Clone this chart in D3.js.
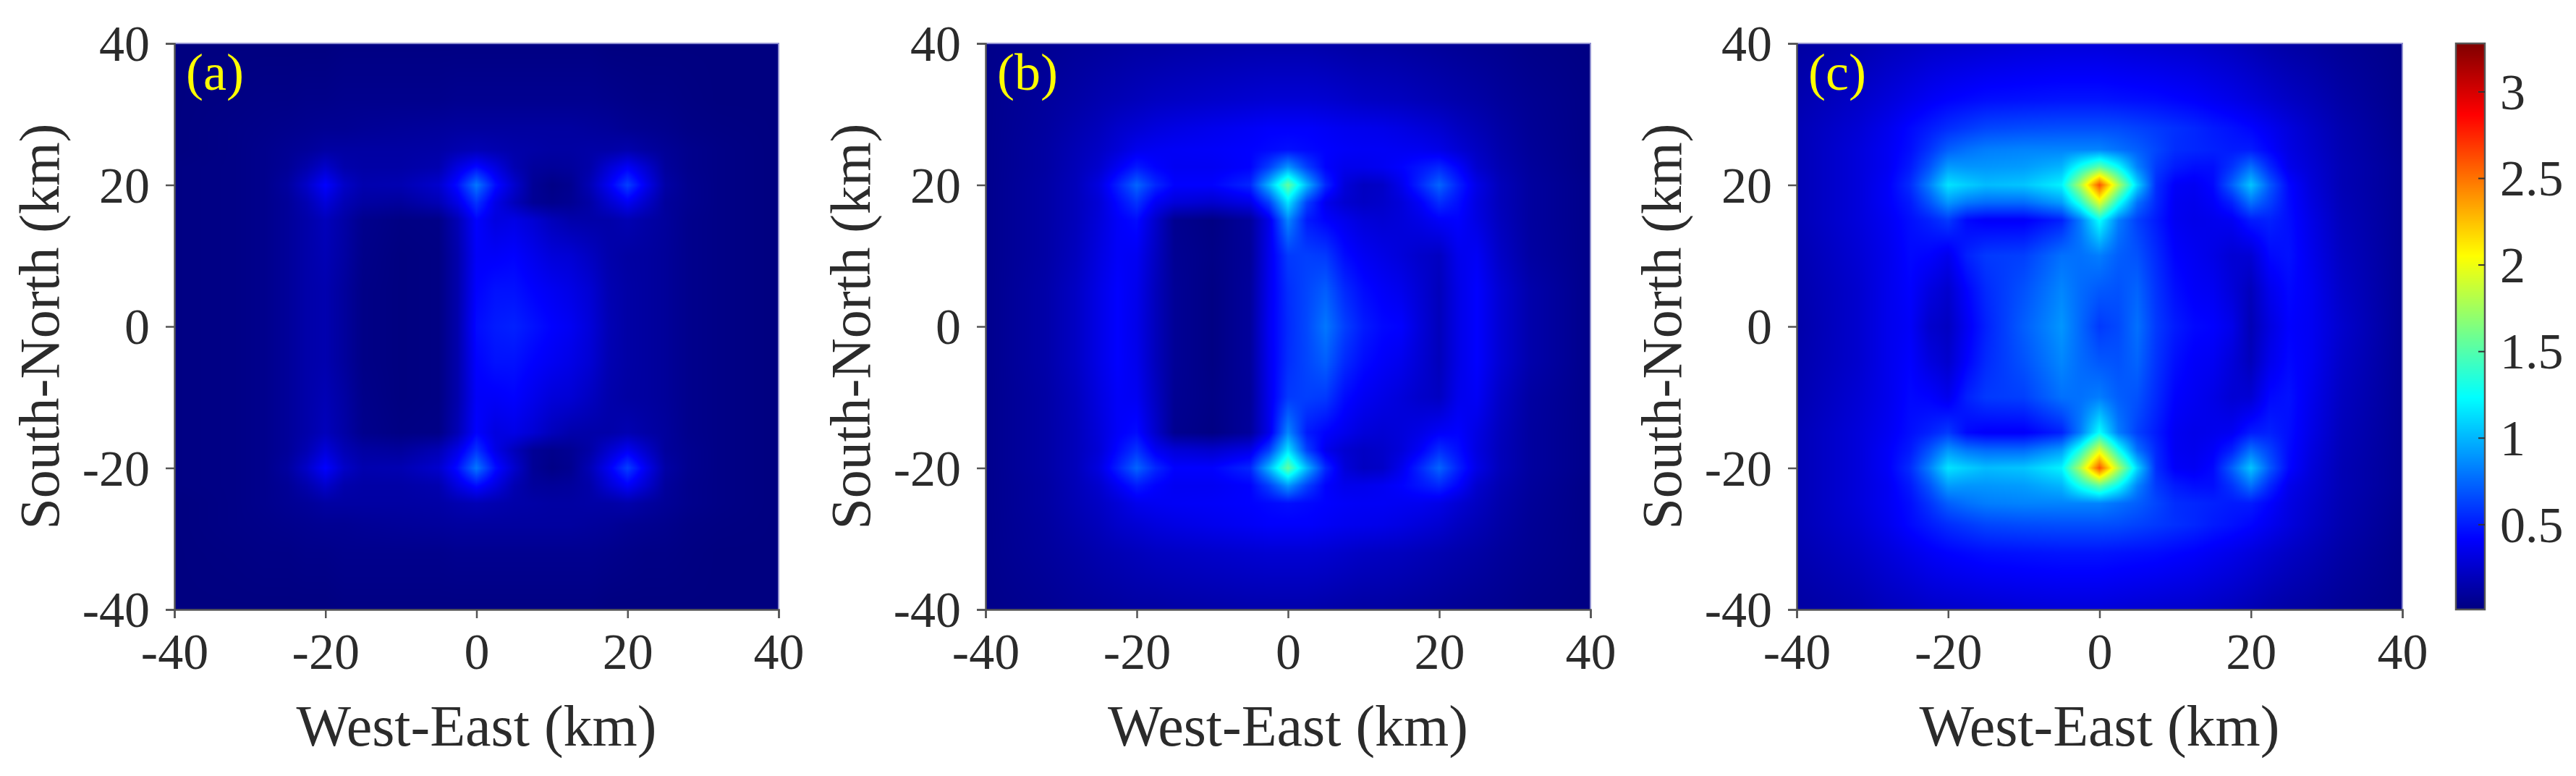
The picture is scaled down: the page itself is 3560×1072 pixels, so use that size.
<!DOCTYPE html>
<html>
<head>
<meta charset="utf-8">
<script src="https://cdnjs.cloudflare.com/ajax/libs/d3/7.8.5/d3.min.js"></script>
<style>
  html, body { margin: 0; padding: 0; background: #fff; }
  text { font-family: "Liberation Serif", serif; fill: #2b2b2b; }
</style>
</head>
<body>
<div id="chart-container"></div>
<script>
// sample positions (km), rows run from y=40 down to y=0, the south half mirrors them
var xKnots = [-40,-32,-28,-25,-22.5,-20,-17.5,-15,-10,-5,-2.5,0,2.5,5,7.5,10,12.5,15,17.5,20,22.5,25,28,32,40];
var yKnots = [40,32,28,25,22.5,20,17.5,15,10,5,0];

var rowsA = [
  [.01,.01,.01,.01,.01,.01,.02,.02,.02,.02,.02,.02,.02,.02,.02,.02,.02,.02,.01,.01,.01,.01,.01,.01,.01],
  [.01,.02,.03,.03,.04,.04,.05,.05,.05,.05,.06,.06,.06,.06,.06,.06,.06,.06,.05,.04,.03,.03,.02,.01,.01],
  [.01,.03,.04,.05,.06,.07,.07,.08,.09,.10,.11,.11,.11,.11,.11,.11,.11,.10,.09,.07,.06,.05,.03,.02,.01],
  [.01,.03,.05,.07,.09,.12,.12,.12,.12,.13,.16,.18,.16,.14,.13,.12,.12,.13,.13,.15,.11,.08,.05,.03,.01],
  [.02,.03,.05,.08,.15,.25,.15,.13,.13,.16,.32,.45,.32,.17,.10,.09,.10,.14,.28,.40,.26,.10,.05,.03,.01],
  [.02,.03,.05,.11,.24,.42,.24,.16,.17,.26,.46,.80,.46,.26,.08,.03,.06,.18,.38,.62,.36,.13,.06,.03,.01],
  [.02,.03,.05,.09,.17,.30,.18,.12,.10,.18,.34,.58,.34,.20,.08,.05,.07,.13,.26,.38,.24,.10,.06,.03,.01],
  [.02,.03,.05,.09,.14,.20,.13,.05,.02,.03,.18,.42,.32,.34,.28,.20,.15,.14,.14,.17,.13,.10,.05,.03,.01],
  [.02,.03,.05,.09,.14,.18,.12,.04,.01,.02,.15,.40,.40,.42,.36,.30,.28,.22,.15,.12,.11,.09,.05,.03,.01],
  [.02,.03,.05,.09,.14,.16,.10,.03,.01,.02,.15,.42,.47,.47,.42,.38,.34,.28,.17,.13,.11,.09,.05,.03,.01],
  [.02,.03,.05,.09,.14,.16,.10,.03,.01,.02,.15,.45,.50,.52,.47,.42,.38,.30,.18,.13,.11,.09,.05,.03,.01]
];

var rowsB = [
  [.04,.07,.09,.10,.11,.12,.12,.13,.14,.15,.15,.15,.15,.14,.13,.12,.12,.11,.10,.09,.08,.07,.06,.04,.02],
  [.05,.10,.13,.16,.18,.20,.22,.23,.25,.27,.28,.28,.28,.27,.25,.23,.22,.21,.19,.17,.15,.13,.10,.07,.03],
  [.05,.11,.16,.20,.25,.28,.31,.33,.36,.39,.41,.41,.41,.39,.37,.36,.35,.33,.30,.27,.22,.18,.13,.08,.03],
  [.05,.12,.18,.23,.29,.36,.38,.39,.40,.42,.44,.46,.44,.42,.40,.39,.39,.38,.37,.34,.28,.22,.15,.09,.03],
  [.05,.12,.19,.26,.38,.50,.42,.38,.38,.42,.62,.90,.62,.42,.36,.36,.38,.42,.48,.54,.42,.26,.17,.10,.03],
  [.05,.13,.20,.32,.52,.74,.54,.42,.42,.54,1.0,1.55,1.0,.54,.30,.22,.24,.36,.54,.74,.52,.34,.20,.11,.04],
  [.05,.13,.20,.29,.44,.58,.38,.30,.26,.34,.62,1.15,.62,.36,.27,.23,.25,.30,.40,.56,.46,.32,.20,.11,.04],
  [.05,.13,.20,.30,.40,.45,.25,.06,.02,.10,.35,.85,.50,.42,.36,.30,.28,.30,.34,.40,.42,.33,.21,.11,.04],
  [.05,.13,.21,.32,.40,.38,.22,.07,.03,.09,.36,.60,.62,.60,.45,.38,.34,.30,.25,.22,.36,.39,.24,.12,.04],
  [.05,.14,.23,.34,.42,.36,.20,.08,.02,.10,.37,.56,.64,.72,.55,.45,.40,.36,.28,.20,.34,.42,.28,.15,.04],
  [.05,.14,.23,.34,.42,.35,.20,.08,.02,.10,.38,.55,.65,.80,.62,.50,.44,.42,.30,.20,.34,.42,.28,.15,.04]
];

var rowsC = [
  [.12,.16,.20,.22,.24,.25,.26,.27,.29,.30,.30,.30,.29,.28,.27,.26,.25,.23,.21,.18,.15,.13,.11,.08,.04],
  [.16,.24,.30,.35,.39,.42,.44,.46,.47,.48,.48,.48,.47,.46,.45,.43,.41,.38,.35,.31,.27,.23,.19,.13,.05],
  [.18,.28,.36,.44,.50,.56,.60,.64,.66,.67,.67,.67,.66,.63,.60,.57,.54,.50,.47,.43,.37,.31,.24,.16,.06],
  [.18,.30,.38,.46,.58,.72,.78,.82,.84,.84,.84,.84,.78,.72,.64,.56,.54,.52,.50,.50,.42,.33,.26,.17,.07],
  [.18,.30,.38,.50,.68,.92,.90,.90,.92,1.0,1.3,1.55,1.25,.84,.60,.50,.46,.46,.58,.78,.54,.36,.28,.18,.08],
  [.18,.30,.40,.56,.82,1.15,1.08,1.02,1.05,1.2,1.8,2.6,1.8,1.1,.56,.40,.38,.44,.72,1.05,.70,.44,.30,.18,.08],
  [.18,.30,.40,.50,.68,.90,.80,.76,.76,.92,1.35,1.95,1.3,.78,.54,.38,.36,.40,.52,.78,.62,.45,.32,.19,.08],
  [.18,.30,.38,.46,.52,.60,.44,.40,.40,.52,.82,1.25,.82,.62,.50,.38,.35,.36,.38,.50,.52,.46,.34,.20,.08],
  [.16,.28,.36,.44,.42,.36,.52,.60,.62,.78,.78,.82,.72,.68,.55,.42,.38,.34,.28,.28,.44,.47,.36,.22,.08],
  [.15,.26,.36,.42,.32,.26,.42,.55,.68,.85,.76,.70,.68,.74,.58,.46,.40,.38,.30,.20,.36,.44,.38,.24,.08],
  [.14,.26,.36,.40,.26,.22,.38,.52,.72,.90,.75,.60,.65,.78,.60,.50,.44,.42,.35,.18,.32,.42,.38,.26,.08]
];

var panelNames = ["(a)", "(b)", "(c)"];
var axisTicks = [-40, -20, 0, 20, 40];
var colorTicks = [0.5, 1, 1.5, 2, 2.5, 3];
var colorMin = 0.01, colorMax = 3.28;

// jet colormap stops as fractions of the colour range
var jetStops = [0, 0.125, 0.375, 0.625, 0.875, 1];
var jetColors = ["#000080", "#0000ff", "#00ffff", "#ffff00", "#ff0000", "#800000"];

var width = 3560, height = 1072;
var plotTop = 60, plotBottom = 842;
var panels = [
  {left: 241, right: 1076, rows: rowsA},
  {left: 1362, right: 2198, rows: rowsB},
  {left: 2483, right: 3320, rows: rowsC}
];

var valueToFraction = d3.scaleLinear().domain([colorMin, colorMax]).range([0, 1]).clamp(true);
var jet = d3.scaleLinear().domain(jetStops).range(jetColors).interpolate(d3.interpolateRgb);

var svg = d3.select("#chart-container").append("svg")
    .attr("width", width)
    .attr("height", height)
    .style("display", "block");

// value at (x, y) shaded between the four surrounding samples
function shade(grid, ys, x, y) {
  var i = Math.max(1, Math.min(d3.bisectRight(xKnots, x), xKnots.length - 1));
  var j = Math.max(1, Math.min(d3.bisectRight(ys, y), ys.length - 1));
  var tx = (x - xKnots[i - 1]) / (xKnots[i] - xKnots[i - 1]);
  var ty = (y - ys[j - 1]) / (ys[j] - ys[j - 1]);
  var a = grid[j - 1][i - 1] + (grid[j - 1][i] - grid[j - 1][i - 1]) * tx;
  var b = grid[j][i - 1] + (grid[j][i] - grid[j][i - 1]) * tx;
  return a + (b - a) * ty;
}

panels.forEach(function(p, n) {
  var x = d3.scaleLinear().domain([-40, 40]).range([p.left, p.right]);
  var y = d3.scaleLinear().domain([-40, 40]).range([plotBottom, plotTop]);

  // south half is the mirror of the north half, bottom row first
  var grid = p.rows.slice().concat(p.rows.slice(0, -1).reverse());
  var ys = yKnots.map(function(d) { return -d; }).concat(yKnots.slice(0, -1).reverse());

  var w = p.right - p.left, h = plotBottom - plotTop;
  var canvas = document.createElement("canvas");
  canvas.width = w;
  canvas.height = h;
  var ctx = canvas.getContext("2d");
  var img = ctx.createImageData(w, h);
  for (var py = 0; py < h; py++) {
    for (var px = 0; px < w; px++) {
      var v = shade(grid, ys, x.invert(p.left + px + 0.5), y.invert(plotTop + py + 0.5));
      var c = d3.rgb(jet(valueToFraction(v)));
      var k = (py * w + px) * 4;
      img.data[k] = c.r;
      img.data[k + 1] = c.g;
      img.data[k + 2] = c.b;
      img.data[k + 3] = 255;
    }
  }
  ctx.putImageData(img, 0, 0);

  var g = svg.append("g");
  g.append("image")
    .attr("x", p.left)
    .attr("y", plotTop)
    .attr("width", w)
    .attr("height", h)
    .attr("href", canvas.toDataURL());

  // the thin pale edge along the top and right of each map
  g.append("path")
    .attr("d", "M" + p.left + "," + plotTop + "H" + p.right + "V" + plotBottom)
    .attr("fill", "none")
    .attr("stroke", "#8f8fd0")
    .attr("stroke-width", 2);

  var xAxis = g.append("g")
    .attr("transform", "translate(0," + plotBottom + ")")
    .call(d3.axisBottom(x).tickValues(axisTicks).tickSize(12).tickPadding(20)
      .tickFormat(function(d) { return String(d); }));
  var yAxis = g.append("g")
    .attr("transform", "translate(" + p.left + ",0)")
    .call(d3.axisLeft(y).tickValues(axisTicks).tickSize(12).tickPadding(22)
      .tickFormat(function(d) { return String(d); }));

  [xAxis, yAxis].forEach(function(a) {
    a.selectAll("path, line").attr("stroke", "#555").attr("stroke-width", 2.5);
    a.selectAll("text").style("font-family", '"Liberation Serif", serif').style("font-size", "70px").attr("fill", "#2b2b2b");
  });
  yAxis.selectAll("text").attr("dy", "0.34em");

  g.append("text")
    .attr("x", (p.left + p.right) / 2)
    .attr("y", 1030)
    .attr("text-anchor", "middle")
    .style("font-size", "80px")
    .text("West-East (km)");

  g.append("text")
    .attr("transform", "translate(" + (p.left - 160) + "," + ((plotTop + plotBottom) / 2) + ") rotate(-90)")
    .attr("text-anchor", "middle")
    .style("font-size", "78px")
    .text("South-North (km)");

  g.append("text")
    .attr("x", p.left + 16)
    .attr("y", 124)
    .style("font-size", "72px")
    .style("fill", "#ffff00")
    .text(panelNames[n]);
});

// colorbar
var barLeft = 3394, barRight = 3434;
var barScale = d3.scaleLinear().domain([colorMin, colorMax]).range([plotBottom, plotTop]);
var barSteps = d3.range(plotBottom - plotTop).map(function(i) { return barScale.invert(plotBottom - i - 0.5); });

svg.append("g").selectAll("rect")
    .data(barSteps)
    .enter().append("rect")
    .attr("x", barLeft)
    .attr("y", function(d) { return barScale(d) - 0.5; })
    .attr("width", barRight - barLeft)
    .attr("height", 1.5)
    .attr("fill", function(d) { return jet(valueToFraction(d)); });

svg.append("rect")
    .attr("x", barLeft)
    .attr("y", plotTop)
    .attr("width", barRight - barLeft)
    .attr("height", plotBottom - plotTop)
    .attr("fill", "none")
    .attr("stroke", "#555")
    .attr("stroke-width", 2.5);

var barTicks = svg.append("g").selectAll("g")
    .data(colorTicks)
    .enter().append("g")
    .attr("transform", function(d) { return "translate(0," + barScale(d) + ")"; });

barTicks.append("line")
    .attr("x1", barRight - 9)
    .attr("x2", barRight)
    .attr("stroke", "#333")
    .attr("stroke-width", 2);

barTicks.append("text")
    .attr("x", barRight + 21)
    .attr("dy", "0.34em")
    .style("font-size", "70px")
    .text(function(d) { return String(d); });
</script>
</body>
</html>
